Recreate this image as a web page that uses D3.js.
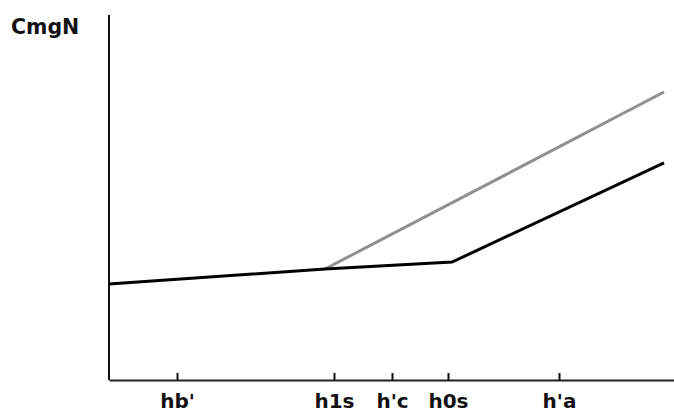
<!DOCTYPE html>
<html>
<head>
<meta charset="utf-8">
<script src="https://cdn.jsdelivr.net/npm/d3@7"></script>
<style>
  body { margin: 0; background: #fff; }
  text { font-family: "DejaVu Sans", sans-serif; font-weight: bold; }
</style>
</head>
<body>
<div id="chart"></div>
<script>
// tick labels and where they sit on the x axis (axis units)
const tickNames = ["hb'", "h1s", "h'c", "h0s", "h'a"];
const tickPos = [68, 225, 283, 339, 450];

// lower (black) curve
const blackX = [0, 216, 343, 555];
const blackY = [26.3, 30.4, 32.3, 59.5];

// upper (grey) branch
const grayX = [216, 555];
const grayY = [30.4, 78.9];

let svg = d3.select("#chart")
            .append("svg")
            .attr("width", 674)
            .attr("height", 412);

let x = d3.scaleLinear().domain([0, 565]).range([109, 674]);
let y = d3.scaleLinear().domain([0, 100]).range([380, 15]);

let line = d3.line()
             .x(d => x(d[0]))
             .y(d => y(d[1]));

// y axis (plain line)
svg.append("line")
   .attr("x1", x(0)).attr("x2", x(0))
   .attr("y1", y(100)).attr("y2", y(0))
   .attr("stroke", "#111")
   .attr("stroke-width", 2);

// x axis with upward ticks
let xAxis = d3.axisBottom(x)
              .tickValues(tickPos)
              .tickFormat((d, i) => tickNames[i])
              .tickSize(-7)
              .tickSizeOuter(0);

let gx = svg.append("g")
            .attr("transform", "translate(0," + y(0) + ")")
            .call(xAxis);

gx.select(".domain").attr("stroke", "#222").attr("stroke-width", 2);
gx.selectAll(".tick line").attr("stroke", "#111").attr("stroke-width", 2);
gx.selectAll(".tick text")
  .attr("y", 28)
  .attr("dy", 0)
  .attr("fill", "#111")
  .style("font-size", "20px")
  .style("font-family", "DejaVu Sans, sans-serif")
  .style("font-weight", "bold");

// grey branch first so black sits on top at the split
svg.append("path")
   .datum(d3.zip(grayX, grayY))
   .attr("d", line)
   .attr("fill", "none")
   .attr("stroke", "#909090")
   .attr("stroke-width", 3);

svg.append("path")
   .datum(d3.zip(blackX, blackY))
   .attr("d", line)
   .attr("fill", "none")
   .attr("stroke", "#000")
   .attr("stroke-width", 3);

// y label
svg.append("text")
   .attr("x", 11)
   .attr("y", 34)
   .attr("fill", "#111")
   .style("font-size", "20.5px")
   .text("CmgN");
</script>
</body>
</html>
